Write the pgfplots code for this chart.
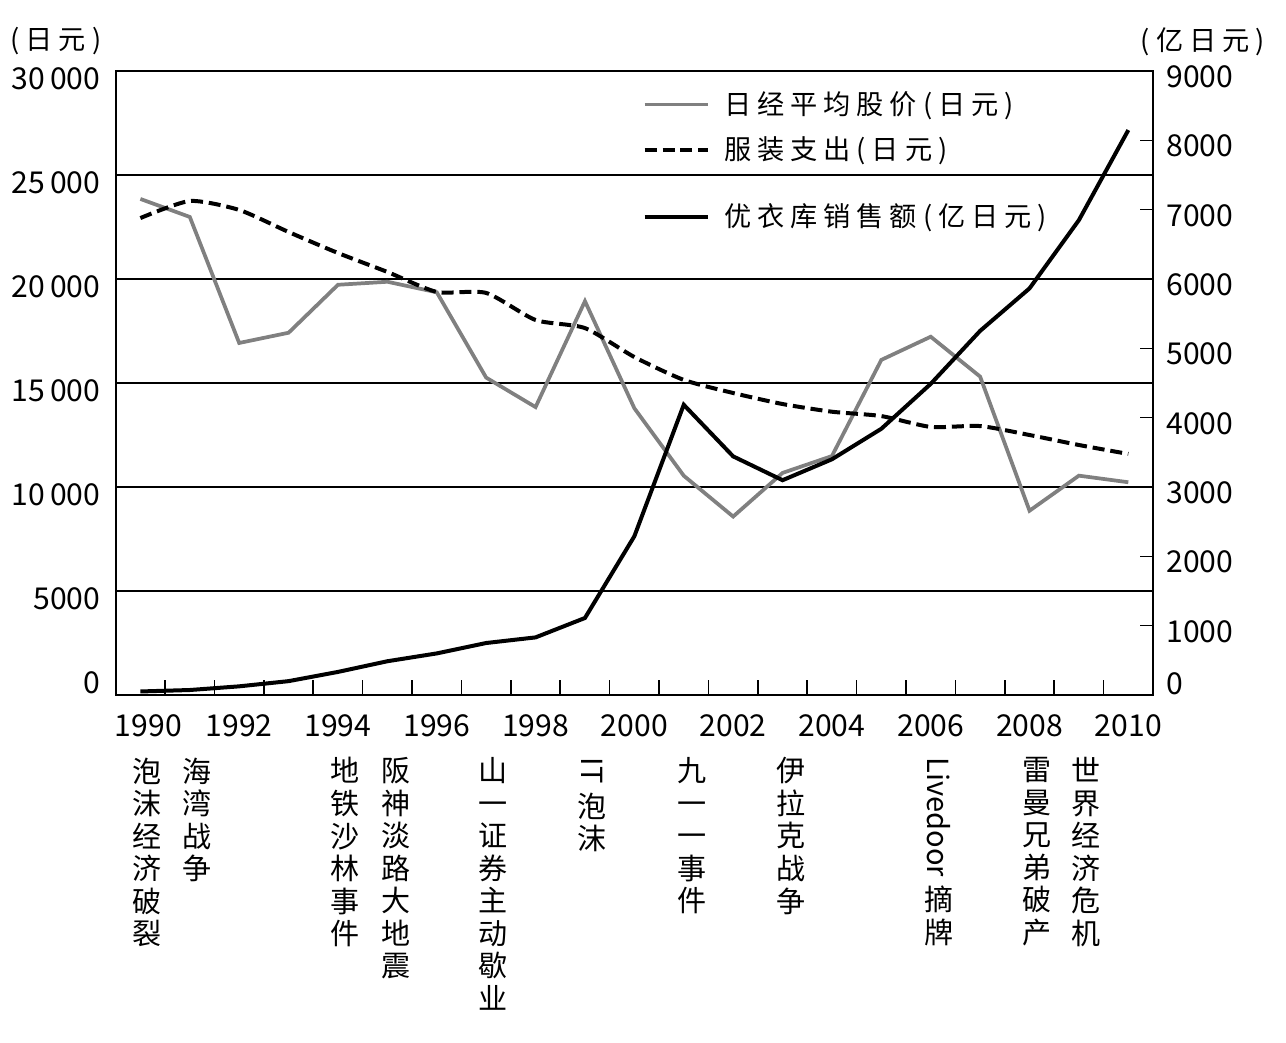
\documentclass[border=0pt]{standalone}
\usepackage{fontspec}
\usepackage{graphicx}
\usepackage{pgfplots}
\pgfplotsset{compat=1.18}
\setmainfont{Noto Sans CJK SC}
\newfontfamily\cjkls[LetterSpace=22]{Noto Sans CJK SC}
\newcommand\tickfont{\fontsize{11.3pt}{13pt}\selectfont}
\newcommand\legfont{\cjkls\fontsize{10.2pt}{12pt}\selectfont}
\newcommand\annfont{\fontsize{10.9pt}{12.2pt}\selectfont}
\definecolor{nikkei}{RGB}{128,128,128}
\tikzset{ann/.style={anchor=north, inner sep=0pt, align=center, font=\annfont}}

\begin{document}
\begin{tikzpicture}
\useasboundingbox (-43.39pt,-130.13pt) rectangle (438.86pt,260.63pt);
\begin{axis}[
  at={(0pt,0pt)}, anchor=south west,
  scale only axis, width=388.99pt, height=234pt,
  xmin=1989.5, xmax=2010.5, ymin=0, ymax=30000,
  clip=false, scaled y ticks=false,
  /pgf/number format/assume math mode=true,
  axis line style={line width=0.6pt},
  tick style={line width=0.6pt, black},
  tick align=inside,
  xtick pos=left, ytick pos=left,
  xtick={1990,1992,...,2010},
  xticklabels={\hspace*{6pt}1990,1992,1994,1996,1998,2000,2002,2004,2006,2008,2010},
  minor xtick={1990.5,1991.5,...,2009.5},
  major tick length=0pt, minor tick length=5.6pt,
  ytick={5000,10000,...,30000},
  yticklabels={5000,10\,000,15\,000,20\,000,25\,000,30\,000},
  extra y ticks={0}, extra y tick labels={0},
  extra y tick style={yticklabel style={yshift=7.3pt}},
  ymajorgrids, major grid style={line width=0.55pt, black},
  xticklabel style={font=\tickfont, yshift=-4pt},
  yticklabel style={font=\tickfont, yshift=-2.8pt, xshift=-2.2pt},
  legend style={at={(0.5075,0.9095)}, anchor=west, draw=none, fill=none,
    font=\legfont, inner sep=0pt, row sep=3.1pt,
    /tikz/every even column/.append style={column sep=7pt}},
  legend image code/.code={\draw[#1] (0pt,0pt) -- (23.6pt,0pt); \path (27pt,0pt);},
  legend cell align=left,
]
\addplot[color=nikkei, line width=1.4pt] coordinates {
  (1990,23849) (1991,22984) (1992,16925) (1993,17417) (1994,19723)
  (1995,19868) (1996,19361) (1997,15259) (1998,13842) (1999,18934)
  (2000,13786) (2001,10543) (2002,8579) (2003,10677) (2004,11489)
  (2005,16111) (2006,17226) (2007,15308) (2008,8860) (2009,10546)
  (2010,10229)};
\addlegendentry{日经平均股价(日元)}
\addplot[black, line width=1.5pt, dash pattern=on 4.5pt off 2.2pt, smooth, tension=0.4] coordinates {
  (1990,22930) (1991,23750) (1992,23320) (1993,22260) (1994,21250)
  (1995,20340) (1996,19380) (1997,19330) (1998,18030) (1999,17640)
  (2000,16250) (2001,15150) (2002,14520) (2003,13990) (2004,13620)
  (2005,13410) (2006,12890) (2007,12930) (2008,12500) (2009,12020)
  (2010,11590)};
\addlegendentry{服装支出(日元)}

\draw[line width=1pt] (rel axis cs:0,0) -- (rel axis cs:1,0);

\node[font=\legfont] at (axis cs:1988.29,31442) {(日元)};
\node[font=\legfont] at (axis cs:2011.51,31394) {(亿日元)};

\node[ann] at (axis cs:1990.14,-2981) {泡\\沫\\经\\济\\破\\裂};
\node[ann] at (axis cs:1991.14,-2981) {海\\湾\\战\\争};
\node[ann] at (axis cs:1994.14,-2981) {地\\铁\\沙\\林\\事\\件};
\node[ann] at (axis cs:1995.17,-2981) {阪\\神\\淡\\路\\大\\地\\震};
\node[ann] at (axis cs:1997.14,-2981) {山\\一\\证\\券\\主\\动\\歇\\业};
\node[ann] at (axis cs:1999.15,-2981) {\rotatebox{-90}{IT~}\\泡\\沫};
\node[ann] at (axis cs:2001.16,-2981) {九\\一\\一\\事\\件};
\node[ann] at (axis cs:2003.17,-2981) {伊\\拉\\克\\战\\争};
\node[ann] at (axis cs:2006.17,-2981) {\rotatebox{-90}{Livedoor~}\\摘\\牌};
\node[ann] at (axis cs:2008.16,-2981) {雷\\曼\\兄\\弟\\破\\产};
\node[ann] at (axis cs:2009.14,-2981) {世\\界\\经\\济\\危\\机};
\end{axis}

\begin{axis}[
  at={(0pt,0pt)}, anchor=south west,
  scale only axis, width=388.99pt, height=234pt,
  xmin=1989.5, xmax=2010.5, ymin=0, ymax=9000,
  /pgf/number format/assume math mode=true,
  axis x line=none, axis y line*=right,
  axis line style={line width=0.6pt},
  tick style={line width=0.6pt, black},
  tick align=inside, major tick length=4.9pt,
  ytick={1000,2000,...,9000},
  yticklabels={1000,2000,3000,4000,5000,6000,7000,8000,9000},
  extra y ticks={0}, extra y tick labels={0},
  extra y tick style={yticklabel style={yshift=6.5pt}},
  yticklabel style={font=\tickfont, yshift=-2.2pt, xshift=1.5pt},
  legend style={at={(0.5075,0.766)}, anchor=west, draw=none, fill=none,
    font=\legfont, inner sep=0pt,
    /tikz/every even column/.append style={column sep=7pt}},
  legend image code/.code={\draw[#1] (0pt,0pt) -- (23.6pt,0pt); \path (27pt,0pt);},
  legend cell align=left,
]
\addplot[black, line width=1.5pt] coordinates {
  (1990,51) (1991,72) (1992,125) (1993,200) (1994,333)
  (1995,487) (1996,600) (1997,750) (1998,831) (1999,1111)
  (2000,2290) (2001,4186) (2002,3442) (2003,3098) (2004,3400)
  (2005,3840) (2006,4488) (2007,5252) (2008,5865) (2009,6850)
  (2010,8148)};
\addlegendentry{优衣库销售额(亿日元)}
\end{axis}
\end{tikzpicture}
\end{document}
